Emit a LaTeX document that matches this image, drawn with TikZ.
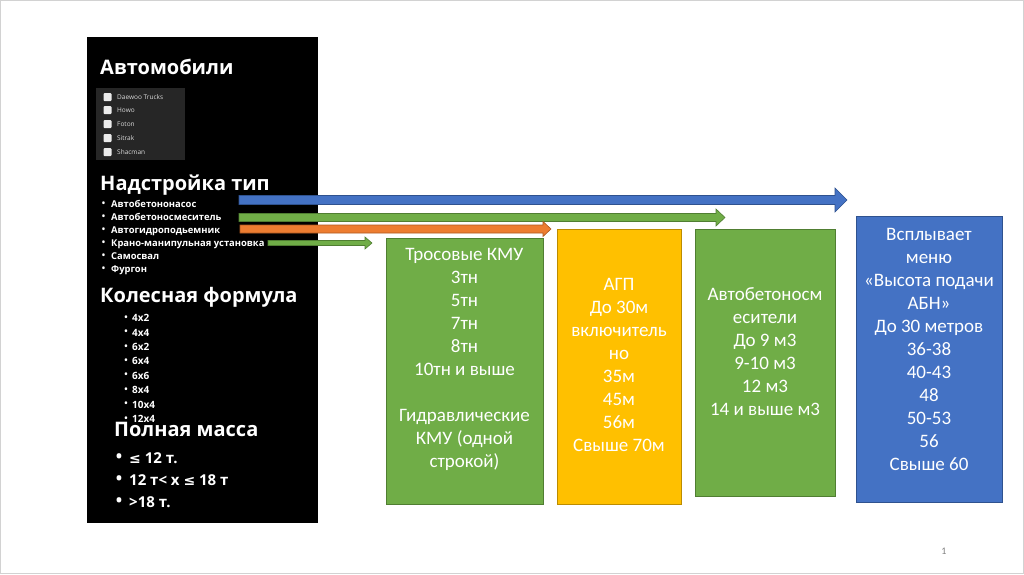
\documentclass[tikz,border=0pt]{standalone}
\usepackage{fontspec}
\setmainfont{Carlito}
\newfontfamily\lpf{Open Sans}
\newfontfamily\djf{DejaVu Sans}
\usetikzlibrary{calc}
\definecolor{bgreen}{HTML}{70AD47}
\definecolor{bgreenD}{HTML}{507E32}
\definecolor{byellow}{HTML}{FFC000}
\definecolor{byellowD}{HTML}{BC8C00}
\definecolor{bblue}{HTML}{4472C4}
\definecolor{bblueD}{HTML}{2F528F}
\definecolor{borange}{HTML}{ED7D31}
\definecolor{borangeD}{HTML}{AE5A21}
\definecolor{cbpanel}{HTML}{262626}
\newcommand{\fatarrow}[6]{%
  \draw[#6] let \p1=(#1), \p2=(#2) in
    (\x1,\y1+#3pt) -- (\x2-#5pt,\y1+#3pt) -- (\x2-#5pt,\y1+#4pt) -- (\x2,\y2)
    -- (\x2-#5pt,\y1-#4pt) -- (\x2-#5pt,\y1-#3pt) -- (\x1,\y1-#3pt) -- cycle;}
\tikzset{
  infobox/.style={draw=#1D, fill=#1, line width=0.8pt, inner sep=0pt, anchor=north west},
  boxtext/.style={text=white, align=center, font=\fontsize{19}{23}\selectfont, inner sep=0pt},
  header/.style={text=white, anchor=base west, inner sep=0pt, font=\lpf\bfseries\fontsize{20}{24}\selectfont},
  typeitem/.style={text=white, anchor=base west, inner sep=0pt, font=\lpf\bfseries\fontsize{9.4}{10}\selectfont},
  wheelitem/.style={text=white, anchor=base west, inner sep=0pt, font=\lpf\bfseries\fontsize{10}{10}\selectfont},
  massitem/.style={text=white, anchor=base west, inner sep=0pt, font=\lpf\bfseries\fontsize{15}{16}\selectfont},
  cbitem/.style={text=white!85!black, anchor=base west, inner sep=0pt, font=\lpf\fontsize{6.5}{7}\selectfont},
  cbsq/.style={fill=white!92!black, rounded corners=1pt, minimum size=8pt, inner sep=0pt},
  bul/.style={text=white, anchor=center, inner sep=0pt, font=\lpf\bfseries\fontsize{9}{9}\selectfont},
  bigbul/.style={bul, font=\lpf\bfseries\fontsize{17}{17}\selectfont},
}
\begin{document}
\begin{tikzpicture}[x=1pt,y=-1pt]
\useasboundingbox (0,0) rectangle (1024,574);
\fill[white] (0,0) rectangle (1024,574);
\draw[gray!35, line width=0.6pt] (0.3,0.3) rectangle (1023.7,573.7);

% left black panel
\node[fill=black, minimum width=231pt, minimum height=486pt, inner sep=0pt, anchor=north west] (panel) at (87,37) {};
\node[header] (hcars) at (100,74) {Автомобили};
\node[fill=cbpanel, minimum width=89pt, minimum height=72pt, inner sep=0pt, anchor=north west] (cbp) at (96,88) {};
\foreach \n/\yy/\t in {1/97/Daewoo Trucks,2/110/Howo,3/124/Foton,4/138/Sitrak,5/152/Shacman}{
  \node[cbsq] (cb\n) at (107.5,\yy) {};
  \node[cbitem] (cbt\n) at (117,\yy+2.3) {\t};
}
\node[header] (htype) at (100,190) {Надстройка тип};
\foreach \n/\yy/\t in {1/204/Автобетононасос,2/217/Автобетоносмеситель,3/230/Автогидроподьемник,4/243/Крано-манипульная установка,5/256/Самосвал,6/269/Фургон}{
  \node[bul] (tb\n) at (103.5,\yy) {•};
  \node[typeitem] (ti\n) at (111,\yy+3.4) {\t};
}
\node[header] (hwheel) at (100,302) {Колесная формула};
\foreach \n/\yy/\t in {1/318/4x2,2/332.4/4x4,3/346.8/6x2,4/361.2/6x4,5/375.6/6x6,6/390/8x4,7/404.4/10x4,8/418.8/12x4}{
  \node[bul] (wb\n) at (126,\yy) {•};
  \node[wheelitem] (wi\n) at (132,\yy+3.6) {\t};
}
\node[header] (hmass) at (114,436) {Полная масса};
\node[bigbul] (mb1) at (119,458) {•};
\node[massitem] (mi1) at (129,463.5) {{\djf\bfseries\fontsize{14}{14}\selectfont≤} 12 т.};
\node[bigbul] (mb2) at (119,480) {•};
\node[massitem] (mi2) at (129,485.5) {12 т< x {\djf\bfseries\fontsize{14}{14}\selectfont≤} 18 т};
\node[bigbul] (mb3) at (119,502) {•};
\node[massitem] (mi3) at (129,507.5) {>18 т.};

% info boxes
\node[infobox=bgreen, minimum width=157pt, minimum height=266pt] (kmu) at (386,238) {};
\node[infobox=byellow, minimum width=124pt, minimum height=275pt] (agp) at (557,229) {};
\node[infobox=bgreen, minimum width=140pt, minimum height=267pt] (abs) at (695,229) {};
\node[infobox=bblue, minimum width=146pt, minimum height=286pt] (abn) at (856,216) {};

\node[boxtext] (kmut) at (464.5,359) {Тросовые КМУ\\3тн\\5тн\\7тн\\8тн\\10тн и выше\\[23pt]Гидравлические\\КМУ (одной\\строкой)};
\node[boxtext] (agpt) at (619,365) {АГП\\До 30м\\включитель\\но\\35м\\45м\\56м\\Свыше 70м};
\node[boxtext] (abst) at (765,352) {Автобетоносм\\есители\\До 9 м3\\9-10 м3\\12 м3\\14 и выше м3};
\node[boxtext] (abnt) at (929,349) {Всплывает\\меню\\«Высота подачи\\АБН»\\До 30 метров\\36-38\\40-43\\48\\50-53\\56\\Свыше 60};

% arrows
\coordinate (a1s) at (239,200);
\coordinate (a1e) at (847,200);
\coordinate (a2s) at (239,217.5);
\coordinate (a2e) at (725,217.5);
\coordinate (a3s) at (240,229);
\coordinate (a3e) at (551,229);
\coordinate (a4s) at (268,243);
\coordinate (a4e) at (372,243);
\fatarrow{a1s}{a1e}{4.5}{12}{12}{fill=bblue, draw=bblueD, line width=0.6pt}
\fatarrow{a2s}{a2e}{4}{8.5}{9}{fill=bgreen, draw=bgreenD, line width=0.6pt}
\fatarrow{a3s}{a3e}{4}{7.5}{8}{fill=borange, draw=borangeD, line width=0.6pt}
\fatarrow{a4s}{a4e}{2.5}{6}{7}{fill=bgreen, draw=bgreenD, line width=0.6pt}

\node[text=gray, font=\fontsize{10}{12}\selectfont, inner sep=0pt] (pnum) at (944,551) {1};
\end{tikzpicture}
\end{document}
